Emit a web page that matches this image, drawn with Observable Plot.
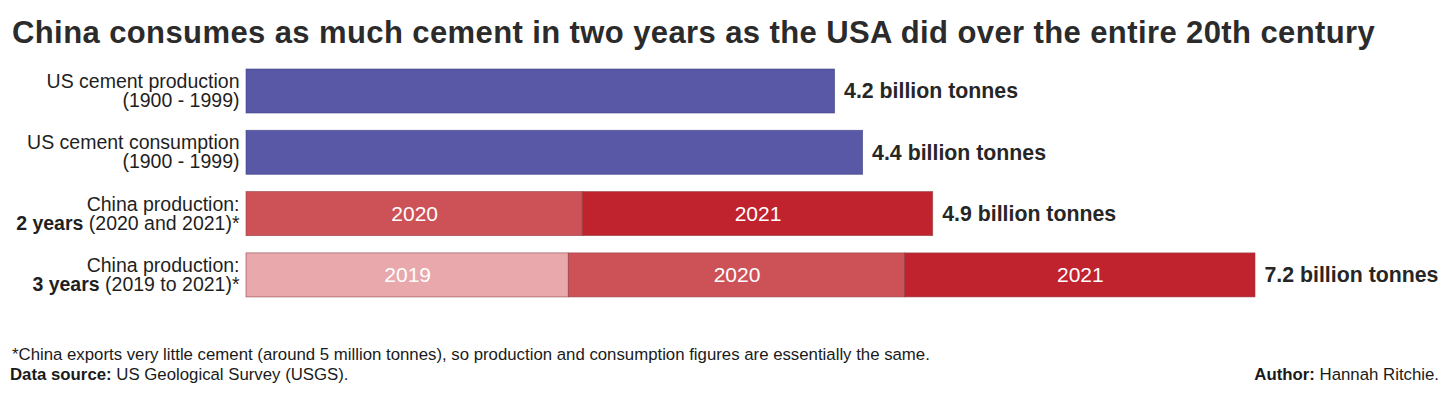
<!DOCTYPE html>
<html>
<head>
<meta charset="utf-8">
<script src="https://cdn.jsdelivr.net/npm/d3@7"></script>
<script src="https://cdn.jsdelivr.net/npm/@observablehq/plot@0.6"></script>
<style>
  html, body { margin: 0; padding: 0; background: #fff; }
  #wrap { position: relative; width: 1456px; height: 398px; overflow: hidden; font-family: "Liberation Sans", Arial, sans-serif; color: #2b2b2b; }
  #title { position: absolute; left: 12px; top: 17px; font-size: 31px; line-height: 31px; letter-spacing: 0.4px; font-weight: bold; white-space: nowrap; color: #2b2b2b; }
  #chart { position: absolute; left: 0; top: 0; }
  .foot { position: absolute; font-size: 16.8px; line-height: 17px; white-space: nowrap; color: #1a1a1a; }
</style>
</head>
<body>
<div id="wrap">
  <div id="chart"></div>
  <div id="title">China consumes as much cement in two years as the USA did over the entire 20th century</div>
  <div class="foot" style="left:12px; top:346px;">*China exports very little cement (around 5 million tonnes), so production and consumption figures are essentially the same.</div>
  <div class="foot" style="left:10px; top:366px;"><b>Data source:</b> US Geological Survey (USGS).</div>
  <div class="foot" style="right:17px; top:366px;"><b>Author:</b> Hannah Ritchie.</div>
</div>
<script>
// Categories (row labels)
const categories = [
  "US cement production\n(1900 - 1999)",
  "US cement consumption\n(1900 - 1999)",
  "China production:\n2 years (2020 and 2021)*",
  "China production:\n3 years (2019 to 2021)*"
];
// Bar segments (billion tonnes)
const segCategory = [0, 1, 2, 2, 3, 3, 3];
const segKey      = ["US", "US", "2020", "2021", "2019", "2020", "2021"];
const segLabel    = ["", "", "2020", "2021", "2019", "2020", "2021"];
const segValue    = [4.2, 4.4, 2.4, 2.5, 2.3, 2.4, 2.5];
// Totals
const totals      = [4.2, 4.4, 4.9, 7.2];
const totalLabels = ["4.2 billion tonnes", "4.4 billion tonnes", "4.9 billion tonnes", "7.2 billion tonnes"];
// Colour keys
const colorKeys   = ["US", "2019", "2020", "2021"];
const colorRange  = ["#5858a7", "#e8a8ac", "#cd5257", "#c0232e"];

const segs = segValue.map((v, i) => ({cat: categories[segCategory[i]], key: segKey[i], label: segLabel[i], value: v}));
const tots = totals.map((v, i) => ({cat: categories[i], value: v, label: totalLabels[i]}));

const plot = Plot.plot({
  width: 1456,
  height: 320,
  marginLeft: 246,
  marginRight: 201,
  marginTop: 51.7,
  marginBottom: 5.8,
  style: {fontFamily: "Liberation Sans, Arial, sans-serif", background: "transparent"},
  x: {domain: [0, 7.2], axis: null},
  y: {domain: categories, padding: 0.282, round: false, axis: null},
  color: {domain: colorKeys, range: colorRange},
  marks: [
    Plot.barX(segs, Plot.stackX({x: "value", y: "cat", fill: "key", stroke: d => d.key === "US" ? "#3f3f80" : "#8e3a40", strokeWidth: 0.8, strokeOpacity: 0.7, inset: 0})),
    Plot.text(segs, Plot.stackX({x: "value", y: "cat", text: "label", fill: "white", fontSize: 21})),
    Plot.text(tots, {x: "value", y: "cat", text: "label", textAnchor: "start", dx: 9, fontSize: 21.3, fontWeight: "bold", fill: "#262626"}),
    Plot.text(categories, {y: d => d, text: d => d, frameAnchor: "left", textAnchor: "end", dx: -7, fontSize: 19.5, lineHeight: 0.98, fill: "#1f1f1f", className: "ylab"})
  ]
});
document.getElementById("chart").appendChild(plot);

// Make the "N years" part bold in row labels
d3.select(plot).selectAll(".ylab tspan").each(function() {
  const t = d3.select(this);
  const s = t.text();
  const m = s.match(/^(\d years)(.*)$/);
  if (m) {
    t.text(null);
    t.append("tspan").attr("font-weight", "bold").text(m[1]);
    t.append("tspan").text(m[2]);
  }
});
</script>
</body>
</html>
